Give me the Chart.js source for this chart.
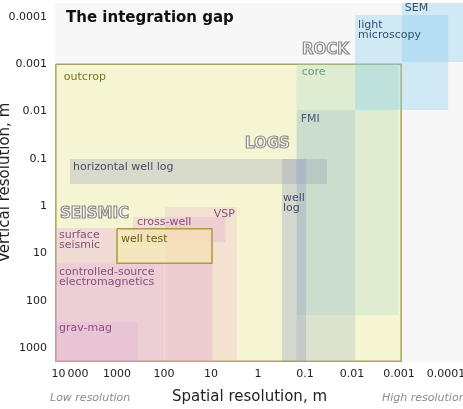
<!DOCTYPE html>
<html>
<head>
<meta charset="utf-8">
<script src="https://cdn.jsdelivr.net/npm/chart.js@4.4.1/dist/chart.umd.min.js"></script>
<style>
  html, body { margin: 0; padding: 0; background: #fff; overflow: hidden; }
  #wrap { width: 463px; height: 409px; overflow: hidden; }
</style>
</head>
<body>
<div id="wrap"><canvas id="gap" width="520" height="409"></canvas></div>
<script>
// boxes: spatial range (xFrom = coarse end, xTo = fine end) and vertical range, in metres
const boxLabels = ['outcrop', 'core', 'FMI', 'light\nmicroscopy', 'SEM', 'horizontal well log', 'well\nlog',
  'surface\nseismic', 'controlled-source\nelectromagnetics', 'grav-mag', 'VSP', 'cross-well', 'well test'];
const xFrom = [20000, 0.15, 0.15, 0.0086, 0.00087, 10000, 0.31, 1e5, 1e5, 1e5, 95, 457, 1000];
const xTo   = [0.0009, 0.00105, 0.0086, 0.00009, 0.00001, 0.034, 0.095, 9.5, 100, 357, 2.8, 5, 9.5];
const yFrom = [0.001, 0.001, 0.0092, 0.000091, 0.00001, 0.1, 0.1, 2.9, 16, 280, 1.04, 1.7, 3];
const yTo   = [1900, 200, 1e4, 0.0092, 0.00089, 0.34, 1e4, 1e4, 1e4, 1e4, 1e4, 5.7, 16];

const xTicks = [10000, 1000, 100, 10, 1, 0.1, 0.01, 0.001, 0.0001];
const xTickText = ['10\u2009000', '1000', '100', '10', '1', '0.1', '0.01', '0.001', '0.0001'];
const yTicks = [0.0001, 0.001, 0.01, 0.1, 1, 10, 100, 1000];
const yTickText = ['0.0001', '0.001', '0.01', '0.1', '1', '10', '100', '1000'];

// outlined group headings
const groupNames = ['SEISMIC', 'LOGS', 'ROCK'];
const groupX = [16300, 1.9, 0.116];
const groupY = [1.46, 0.048, 0.0005];

const FONT = 'DejaVu Sans';
const PINK_TXT = '#8a4d84';

// looks of each box, same order as boxLabels
const boxStyle = [
  { fill: 'rgba(243,243,175,0.5)', line: 'rgba(168,158,88,0.95)', text: '#7d7420', dx: 8, dy: 13 },
  { fill: 'rgba(170,215,205,0.3)', text: '#6e9a88', dx: 5, dy: 8 },
  { fill: 'rgba(150,170,195,0.25)', text: '#4b5a7a', dx: 4, dy: 9 },
  { fill: 'rgba(135,206,240,0.35)', text: '#34506e', dx: 3, dy: 10 },
  { fill: 'rgba(135,206,240,0.35)', text: '#34506e', dx: 3, dy: 5 },
  { fill: 'rgba(150,160,180,0.3)', text: '#484a68', dx: 3, dy: 8 },
  { fill: 'rgba(140,150,190,0.3)', text: '#484a6e', dx: 1, dy: 39 },
  { fill: 'rgba(225,140,215,0.25)', text: PINK_TXT, dx: 4, dy: 7 },
  { fill: 'rgba(225,140,215,0.16)', text: PINK_TXT, dx: 4, dy: 9 },
  { fill: 'rgba(215,140,215,0.16)', text: PINK_TXT, dx: 4, dy: 6 },
  { fill: 'rgba(235,160,195,0.22)', text: PINK_TXT, dx: -2, dy: 7, right: true },
  { fill: 'rgba(225,140,210,0.22)', text: PINK_TXT, dx: 4, dy: 5 },
  { fill: 'rgba(250,242,170,0.55)', line: 'rgba(170,150,60,0.95)', text: '#6d5f12', dx: 4, dy: 10 }
];

const datasets = boxLabels.map((name, i) => ({
  label: name,
  data: [
    { x: xFrom[i], y: yFrom[i] },
    { x: xTo[i], y: yFrom[i] },
    { x: xTo[i], y: yTo[i] },
    { x: xFrom[i], y: yTo[i] },
    { x: xFrom[i], y: yFrom[i] }
  ],
  fill: 'shape',
  backgroundColor: boxStyle[i].fill,
  borderColor: boxStyle[i].line || 'transparent',
  borderWidth: boxStyle[i].line ? 1.5 : 0,
  pointRadius: 0,
  tension: 0,
  order: boxLabels.length - i // first box sits at the bottom
}));

const overlay = {
  id: 'overlay',
  beforeDraw(chart) {
    const { ctx, chartArea: a } = chart;
    ctx.save();
    ctx.fillStyle = '#ffffff';
    ctx.fillRect(0, 0, chart.width, chart.height);
    ctx.fillStyle = '#f7f7f7';
    ctx.fillRect(a.left, a.top, a.right - a.left, a.bottom - a.top);
    ctx.restore();
  },
  afterDatasetsDraw(chart) {
    const { ctx, chartArea: a } = chart;
    const sx = chart.scales.x, sy = chart.scales.y;
    ctx.save();
    ctx.font = '11px ' + FONT;
    ctx.textBaseline = 'middle';
    boxLabels.forEach((name, i) => {
      const s = boxStyle[i];
      const top = Math.max(sy.getPixelForValue(yFrom[i]), a.top);
      let x;
      if (s.right) {
        x = sx.getPixelForValue(xTo[i]) + s.dx;
        ctx.textAlign = 'right';
      } else {
        x = Math.max(sx.getPixelForValue(xFrom[i]), a.left) + s.dx;
        ctx.textAlign = 'left';
      }
      ctx.fillStyle = s.text;
      name.split('\n').forEach((ln, k) => ctx.fillText(ln, x, top + s.dy + k * 10));
    });

    // hollow headings
    ctx.font = 'bold 15px ' + FONT;
    ctx.textAlign = 'left';
    ctx.lineWidth = 1.2;
    groupNames.forEach((g, i) => {
      const x = sx.getPixelForValue(groupX[i]);
      const y = sy.getPixelForValue(groupY[i]);
      ctx.fillStyle = 'rgba(250,250,250,0.85)';
      ctx.fillText(g, x, y);
      ctx.strokeStyle = '#8c8c8c';
      ctx.strokeText(g, x, y);
    });
    ctx.restore();
  },
  afterDraw(chart) {
    const ctx = chart.ctx;
    ctx.save();
    ctx.textBaseline = 'middle';
    ctx.textAlign = 'left';
    ctx.fillStyle = '#111';
    ctx.font = 'bold 15px ' + FONT;
    ctx.fillText('The integration gap', 66, 18);

    ctx.fillStyle = '#222';
    ctx.font = '15px ' + FONT;
    ctx.fillText('Spatial resolution, m', 172, 397);

    ctx.fillStyle = '#8c8c8c';
    ctx.font = 'italic 11px ' + FONT;
    ctx.fillText('Low resolution', 50, 398);
    ctx.fillText('High resolution', 382, 398);
    ctx.restore();
  }
};

new Chart(document.getElementById('gap'), {
  type: 'line',
  data: { datasets },
  options: {
    responsive: false,
    animation: false,
    devicePixelRatio: 1,
    layout: { padding: { top: 3, right: 0, bottom: 0, left: 0 } },
    plugins: { legend: { display: false }, tooltip: { enabled: false } },
    scales: {
      x: {
        type: 'logarithmic',
        reverse: true,
        min: 2.664e-6,
        max: 20850,
        bounds: 'data',
        grid: { display: false, drawTicks: false },
        border: { display: false },
        afterBuildTicks: (s) => { s.ticks = xTicks.map(v => ({ value: v })); },
        afterFit: (s) => { s.height = 47; s.paddingLeft = 0; s.paddingRight = 0; },
        ticks: {
          autoSkip: false,
          maxRotation: 0,
          padding: 6,
          color: '#222',
          font: { family: FONT, size: 11 },
          callback: (v, i) => xTickText[i]
        }
      },
      y: {
        type: 'logarithmic',
        reverse: true,
        min: 5.06e-5,
        max: 1968,
        bounds: 'data',
        grid: { display: false, drawTicks: false },
        border: { display: false },
        afterBuildTicks: (s) => { s.ticks = yTicks.map(v => ({ value: v })); },
        afterFit: (s) => { s.width = 55; s.paddingTop = 0; s.paddingBottom = 0; },
        title: {
          display: true,
          text: 'Vertical resolution, m',
          color: '#222',
          padding: 0,
          font: { family: FONT, size: 15, lineHeight: 0.7 }
        },
        ticks: {
          autoSkip: false,
          padding: 8,
          color: '#222',
          font: { family: FONT, size: 11 },
          callback: (v, i) => yTickText[i]
        }
      }
    }
  },
  plugins: [overlay]
});
</script>
</body>
</html>
